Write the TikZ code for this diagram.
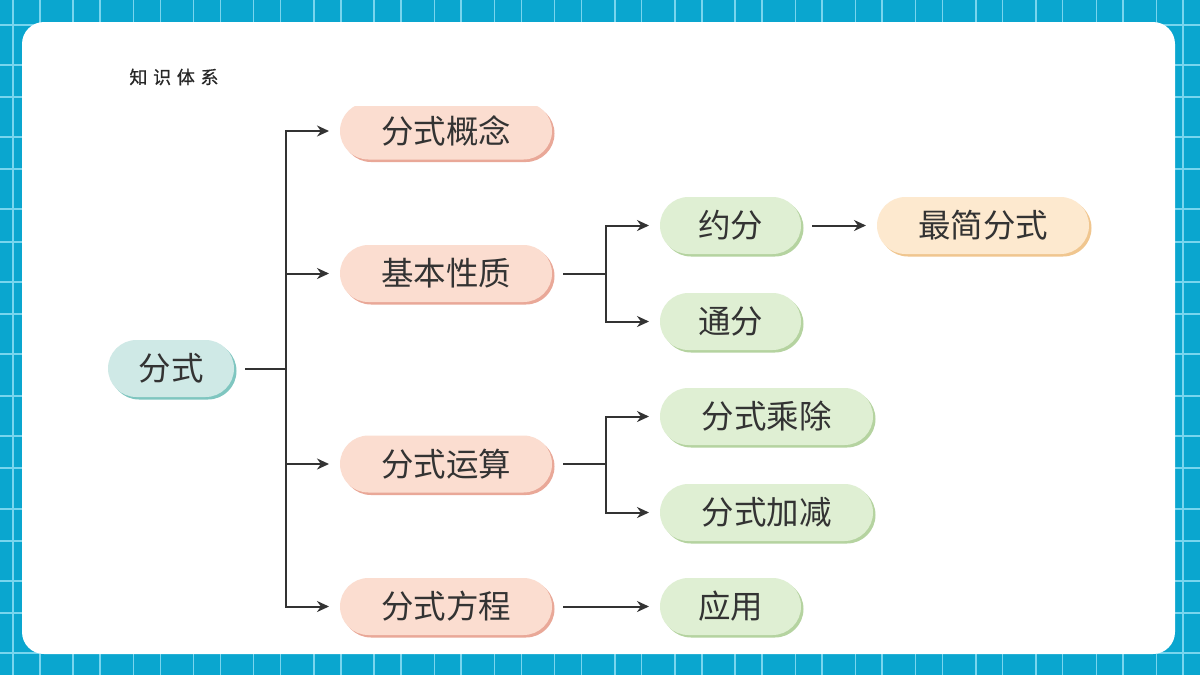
\documentclass[tikz,border=0pt]{standalone}
\usepackage{fontspec}
\setmainfont{Liberation Sans}
\newfontfamily\cjk{Noto Sans CJK SC}
\newfontfamily\cjktitle[FakeBold=0.6]{Noto Sans CJK SC}
\usetikzlibrary{shadows,arrows.meta,shapes.misc}
\definecolor{bgblue}{HTML}{0AA6CF}
\definecolor{gridline}{HTML}{78D5EE}
\definecolor{inkc}{HTML}{333333}
\tikzset{
  pill/.style={rounded rectangle,minimum height=57pt,inner sep=0pt,outer xsep=11pt,outer ysep=0pt,
    text=inkc,font=\cjk\fontsize{32.5pt}{34pt}\selectfont,anchor=center},
  rootpill/.style={pill,fill=rootc,minimum width=126pt,copy shadow={fill=roots,draw=none,shadow xshift=2.5pt,shadow yshift=-2.5pt}},
  pinkpill/.style={pill,fill=pinkc,minimum width=212pt,copy shadow={fill=pinks,draw=none,shadow xshift=2.5pt,shadow yshift=-2.5pt}},
  greenpill/.style={pill,fill=greenc,minimum width=#1,copy shadow={fill=greens,draw=none,shadow xshift=2.5pt,shadow yshift=-2.5pt}},
  yellowpill/.style={pill,fill=yellowc,minimum width=212pt,copy shadow={fill=yellows,draw=none,shadow xshift=2.5pt,shadow yshift=-2.5pt}},
  conn/.style={draw=inkc,line width=2pt},
  arrowconn/.style={conn,-{Stealth[length=12pt,width=11pt]}},
}
\definecolor{rootc}{HTML}{CFE9E6}
\definecolor{roots}{HTML}{7FC6C0}
\definecolor{pinkc}{HTML}{FBDDD0}
\definecolor{pinks}{HTML}{E9A898}
\definecolor{greenc}{HTML}{DFEFD3}
\definecolor{greens}{HTML}{B5D3A0}
\definecolor{yellowc}{HTML}{FDE9CF}
\definecolor{yellows}{HTML}{F0C68F}
\begin{document}
\begin{tikzpicture}[x=1pt,y=-1pt]
\useasboundingbox (0,0) rectangle (1200,675);
\fill[bgblue] (0,0) rectangle (1200,675);
\foreach \k in {0,...,19}{
  \draw[gridline,line width=1.5pt] ({13+60.18*\k},0) -- ({13+60.18*\k},675);
  \draw[gridline,line width=1.5pt] ({40+60.16*\k},0) -- ({40+60.16*\k},675);
}
\foreach \yy in {25,65,97,137,169,209,242,282,314,354,396,436,468,509,541,581,613,653}{
  \draw[gridline,line width=1.5pt] (0,\yy) -- (1200,\yy);
}
\fill[white,rounded corners=22pt] (22,22) rectangle (1175,654);

\node[font=\cjktitle\fontsize{18pt}{20pt}\selectfont,text=black!85] (title) at (174,77) {知\hspace{5.7pt}识\hspace{5.7pt}体\hspace{5.7pt}系};

\node[rootpill] (root) at (171,368.5) {分式};
\node[pinkpill] (concept) at (446,131) {分式概念};
\fill[white] (330,95) rectangle (570,105.5);
\node[pinkpill] (prop) at (446,273.5) {基本性质};
\node[pinkpill] (oper) at (446,464) {分式运算};
\node[pinkpill] (eqn) at (446,606.5) {分式方程};
\node[greenpill=141pt] (reduce) at (730.5,225.5) {约分};
\node[greenpill=141pt] (common) at (730.5,321.5) {通分};
\node[greenpill=213pt] (muldiv) at (766.5,416.5) {分式乘除};
\node[greenpill=213pt] (addsub) at (766.5,512.5) {分式加减};
\node[greenpill=141pt] (apply) at (730.5,606.5) {应用};
\node[yellowpill] (simplest) at (983,225.5) {最简分式};

\coordinate (j1) at (286,368.5);
\coordinate (j2) at (606,273.5);
\coordinate (j3) at (606,464);
\draw[conn] (root.east) -- (j1);
\draw[arrowconn] (j1) |- (concept.west);
\draw[arrowconn] (j1) |- (prop.west);
\draw[arrowconn] (j1) |- (oper.west);
\draw[arrowconn] (j1) |- (eqn.west);
\draw[conn] (prop.east) -- (j2);
\draw[arrowconn] (j2) |- (reduce.west);
\draw[arrowconn] (j2) |- (common.west);
\draw[conn] (oper.east) -- (j3);
\draw[arrowconn] (j3) |- (muldiv.west);
\draw[arrowconn] (j3) |- (addsub.west);
\draw[arrowconn] (eqn.east) -- (apply.west);
\draw[arrowconn] (reduce.east) -- (simplest.west);
\end{tikzpicture}
\end{document}
